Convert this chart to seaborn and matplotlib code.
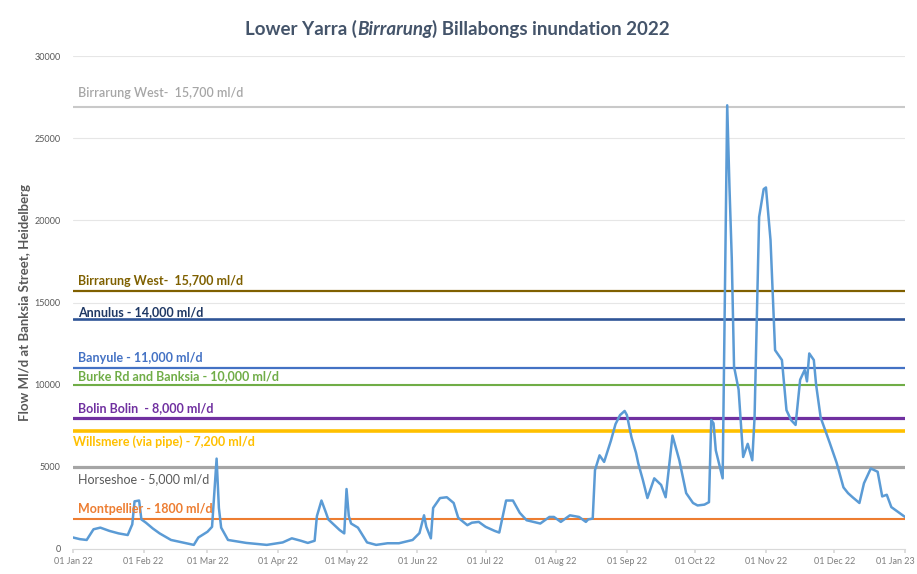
import matplotlib
matplotlib.use("Agg")
import matplotlib.pyplot as plt
import matplotlib.transforms as mtransforms
import numpy as np
import pandas as pd
import seaborn as sns

# ---------------- data ----------------
day_of_year = [0, 3, 6, 9, 12, 16, 20, 24, 26, 27, 29, 30, 32, 35, 38, 43, 48, 53, 55, 59,
               61, 63, 64, 65, 68, 76, 85, 92, 96, 100, 103, 106, 107, 109, 111, 112, 117, 119, 120, 121,
               122, 125, 129, 133, 138, 143, 149, 152, 154, 155, 157, 158, 161, 164, 167, 169, 173, 175, 178, 181,
               185, 187, 189, 190, 193, 196, 199, 205, 209, 211, 214, 218, 222, 225, 226, 228, 229, 231, 233, 236,
               238, 240, 242, 243, 245, 247, 248, 250, 252, 255, 258, 260, 263, 266, 269, 272, 274, 277, 279, 280,
               281, 282, 285, 287, 288, 289, 290, 292, 294, 296, 298, 299, 301, 303, 304, 306, 308, 310, 311, 313,
               315, 317, 319, 321, 322, 323, 325, 326, 328, 332, 335, 338, 340, 342, 345, 347, 350, 353, 355, 357,
               359, 363, 365]
flow = [700, 600, 550, 1200, 1300, 1100, 950, 850, 1500, 2900, 2950, 1800, 1600, 1250, 950, 550, 400, 250, 700, 1050,
        1350, 5500, 2500, 1300, 550, 370, 250, 400, 650, 500, 370, 500, 2000, 2950, 2200, 1800, 1150, 950, 3650, 2000,
        1550, 1300, 400, 250, 350, 350, 550, 970, 2050, 1350, 650, 2500, 3100, 3150, 2800, 1900, 1450, 1600, 1650, 1350,
        1100, 1000, 2300, 2950, 2950, 2200, 1750, 1550, 1950, 1950, 1650, 2050, 1950, 1650, 1800, 1850, 4800, 5700, 5300, 6600,
        7600, 8150, 8400, 8150, 6800, 5850, 5200, 4200, 3100, 4300, 3900, 3150, 6900, 5400, 3400, 2800, 2650, 2700, 2850, 7850,
        7650, 6000, 4300, 27000, 22000, 17700, 11100, 9700, 5600, 6400, 5400, 8000, 20200, 21900, 22000, 18800, 12100, 11700, 11500, 8450,
        7850, 7550, 10300, 10900, 10200, 11900, 11500, 10000, 8000, 6450, 5250, 3750, 3400, 3150, 2800, 4000, 4900, 4700, 3200, 3300,
        2550, 2150, 1950]

threshold_labels = ["Birrarung West-  15,700 ml/d", "Birrarung West-  15,700 ml/d", "Annulus - 14,000 ml/d",
                    "Banyule - 11,000 ml/d", "Burke Rd and Banksia - 10,000 ml/d", "Bolin Bolin  - 8,000 ml/d",
                    "Willsmere (via pipe) - 7,200 ml/d", "Horseshoe - 5,000 ml/d", "Montpellier - 1800 ml/d"]
threshold_values = [26900, 15700, 14000, 11000, 10000, 8000, 7200, 5000, 1800]

y_ticks = [0, 5000, 10000, 15000, 20000, 25000, 30000]
x_tick_labels = ["01 Jan 22", "01 Feb 22", "01 Mar 22", "01 Apr 22", "01 May 22", "01 Jun 22", "01 Jul 22",
                 "01 Aug 22", "01 Sep 22", "01 Oct 22", "01 Nov 22", "01 Dec 22", "01 Jan 23"]

# ---------------- styles ----------------
line_colors = ["#C9C9C9", "#806000", "#2F5597", "#4472C4", "#70AD47", "#7030A0", "#FFC000", "#A5A5A5", "#ED7D31"]
text_colors = ["#A6A6A6", "#7F6000", "#1F3864", "#4472C4", "#70AD47", "#7030A0", "#FFC000", "#595959", "#ED7D31"]
line_widths = [1.5, 1.6, 1.9, 1.6, 1.5, 2.3, 2.6, 2.3, 1.5]
text_weights = ["semibold", "bold", "bold", "bold", "bold", "bold", "bold", "normal", "bold"]
text_dy_px = [8, 4, 1, 4, 3, 3, -5, -6, 4]   # offset of label from its line (px)
text_va = ["bottom", "bottom", "bottom", "bottom", "bottom", "bottom", "top", "top", "bottom"]
text_x_px = [5, 5, 5, 5, 5, 5, 0, 5, 5]

sns.set_theme(style="white")
FONT = ["Lato", "DejaVu Sans"]
plt.rcParams["font.family"] = FONT

df = pd.DataFrame({
    "date": pd.Timestamp("2022-01-01") + pd.to_timedelta(day_of_year, unit="D"),
    "flow": flow,
})

fig = plt.figure(figsize=(9.17, 5.74), dpi=100)
ax = fig.add_axes([73 / 917, 25 / 574, (905 - 73) / 917, (549 - 56) / 574])

ax.set_ylim(0, 30000)
ax.set_xlim(pd.Timestamp("2022-01-01"), pd.Timestamp("2023-01-01"))
ax.set_yticks(y_ticks)
ax.grid(axis="y", color="#E6E6E6", linewidth=0.8)
ax.grid(axis="x", visible=False)

for v, lc, lw in zip(threshold_values, line_colors, line_widths):
    ax.axhline(v, color=lc, linewidth=lw, zorder=2)

sns.lineplot(data=df, x="date", y="flow", ax=ax, color="#5B9BD5", linewidth=1.8, zorder=3)

for lab, v, tc, tw, dy, va, dx in zip(threshold_labels, threshold_values, text_colors, text_weights,
                                      text_dy_px, text_va, text_x_px):
    tr = ax.get_yaxis_transform() + mtransforms.ScaledTranslation(dx / 100, dy / 100, fig.dpi_scale_trans)
    ax.text(0, v, lab, transform=tr, color=tc, fontsize=9, fontweight=tw, va=va, ha="left", zorder=4)

# axes styling
for s in ["top", "right", "left"]:
    ax.spines[s].set_visible(False)
ax.spines["bottom"].set_color("#D9D9D9")
ax.spines["bottom"].set_linewidth(0.8)

month_starts = pd.date_range("2022-01-01", "2023-01-01", freq="MS")
ax.set_xticks(month_starts)
ax.set_xticklabels(x_tick_labels, fontsize=6.5, color="#7F7F7F")
ax.tick_params(axis="x", length=3, color="#D9D9D9", bottom=True, pad=3)
ax.tick_params(axis="y", length=0, labelsize=6.5, labelcolor="#595959", pad=9)
# keep last tick label inside the figure
last = ax.get_xticklabels()[-1]
last.set_horizontalalignment("right")
last.set_transform(last.get_transform() + mtransforms.ScaledTranslation(10 / 100, 0, fig.dpi_scale_trans))

ax.set_xlabel("")
ax.set_ylabel("Flow Ml/d at Banksia Street, Heidelberg", fontsize=9.5, color="#595959",
              fontweight="bold", labelpad=2)

# title with italic part
title_color = "#44546A"
t1 = fig.text(245 / 917, 1 - 29 / 574, "Lower Yarra (", fontsize=13.5, fontweight="bold",
              color=title_color, va="center", ha="left")
t2 = ax.annotate("Birrarung", xy=(1, 0), xycoords=t1, va="bottom", ha="left", fontsize=13.5,
                 fontweight="bold", fontstyle="italic", color=title_color, annotation_clip=False)
t3 = ax.annotate(") Billabongs inundation 2022", xy=(1, 0), xycoords=t2, va="bottom", ha="left",
                 fontsize=13.5, fontweight="bold", color=title_color, annotation_clip=False)

fig.savefig("out.png", dpi=100, facecolor="white")
